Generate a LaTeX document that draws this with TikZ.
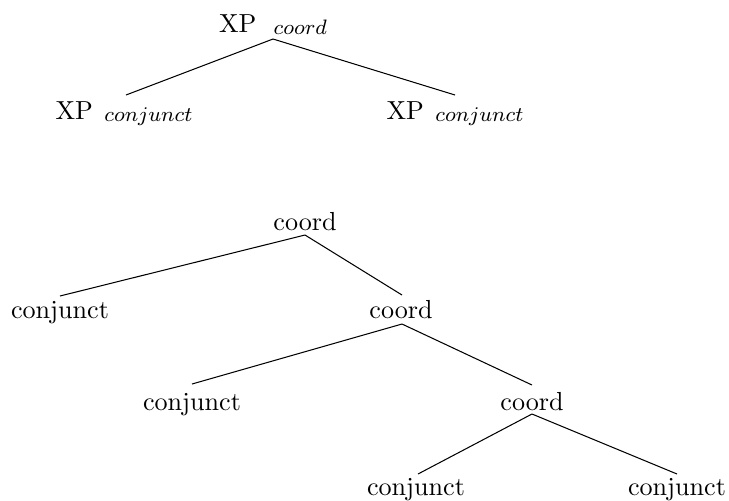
\documentclass[tikz,border=0pt]{standalone}
\usetikzlibrary{calc}
\newcommand\mysubx[1]{\raisebox{-1pt}{\fontsize{8}{9}\selectfont$#1$}}
\begin{document}
\begin{tikzpicture}[x=0.3831pt,y=-0.3831pt,
  lbl/.style={anchor=base,inner sep=0pt,outer sep=0pt},
  edge/.style={draw=black,line width=0.4pt}]
\useasboundingbox (0,0) rectangle (729,500);
% top tree
\node[lbl] (xp) at (273,32) {XP\hspace{6.6pt}\mysubx{coord}};
\node[lbl] (xl) at (124,119) {XP\hspace{4.4pt}\mysubx{conjunct}};
\node[lbl] (xr) at (455,119) {XP\hspace{4.4pt}\mysubx{conjunct}};
\draw[edge] ($(xp.base)+(0,7)$) -- ($(xl.base)+(2,-24)$);
\draw[edge] ($(xp.base)+(0,7)$) -- ($(xr.base)+(0,-24)$);
% bottom tree
\node[lbl] (c1) at (305,230) {coord};
\node[lbl] (k1) at (60,318) {conjunct};
\node[lbl] (c2) at (401,318) {coord};
\node[lbl] (k2) at (192,410) {conjunct};
\node[lbl] (c3) at (532,410) {coord};
\node[lbl] (k3) at (416,495) {conjunct};
\node[lbl] (k4) at (677,495) {conjunct};
\draw[edge] ($(c1.base)+(0,5)$) -- ($(k1.base)+(0,-22)$);
\draw[edge] ($(c1.base)+(0,5)$) -- ($(c2.base)+(1,-23)$);
\draw[edge] ($(c2.base)+(1,6)$) -- ($(k2.base)+(0,-26)$);
\draw[edge] ($(c2.base)+(1,6)$) -- ($(c3.base)+(0,-25)$);
\draw[edge] ($(c3.base)+(0,4)$) -- ($(k3.base)+(2,-21)$);
\draw[edge] ($(c3.base)+(0,4)$) -- ($(k4.base)+(0,-21)$);
\end{tikzpicture}
\end{document}
